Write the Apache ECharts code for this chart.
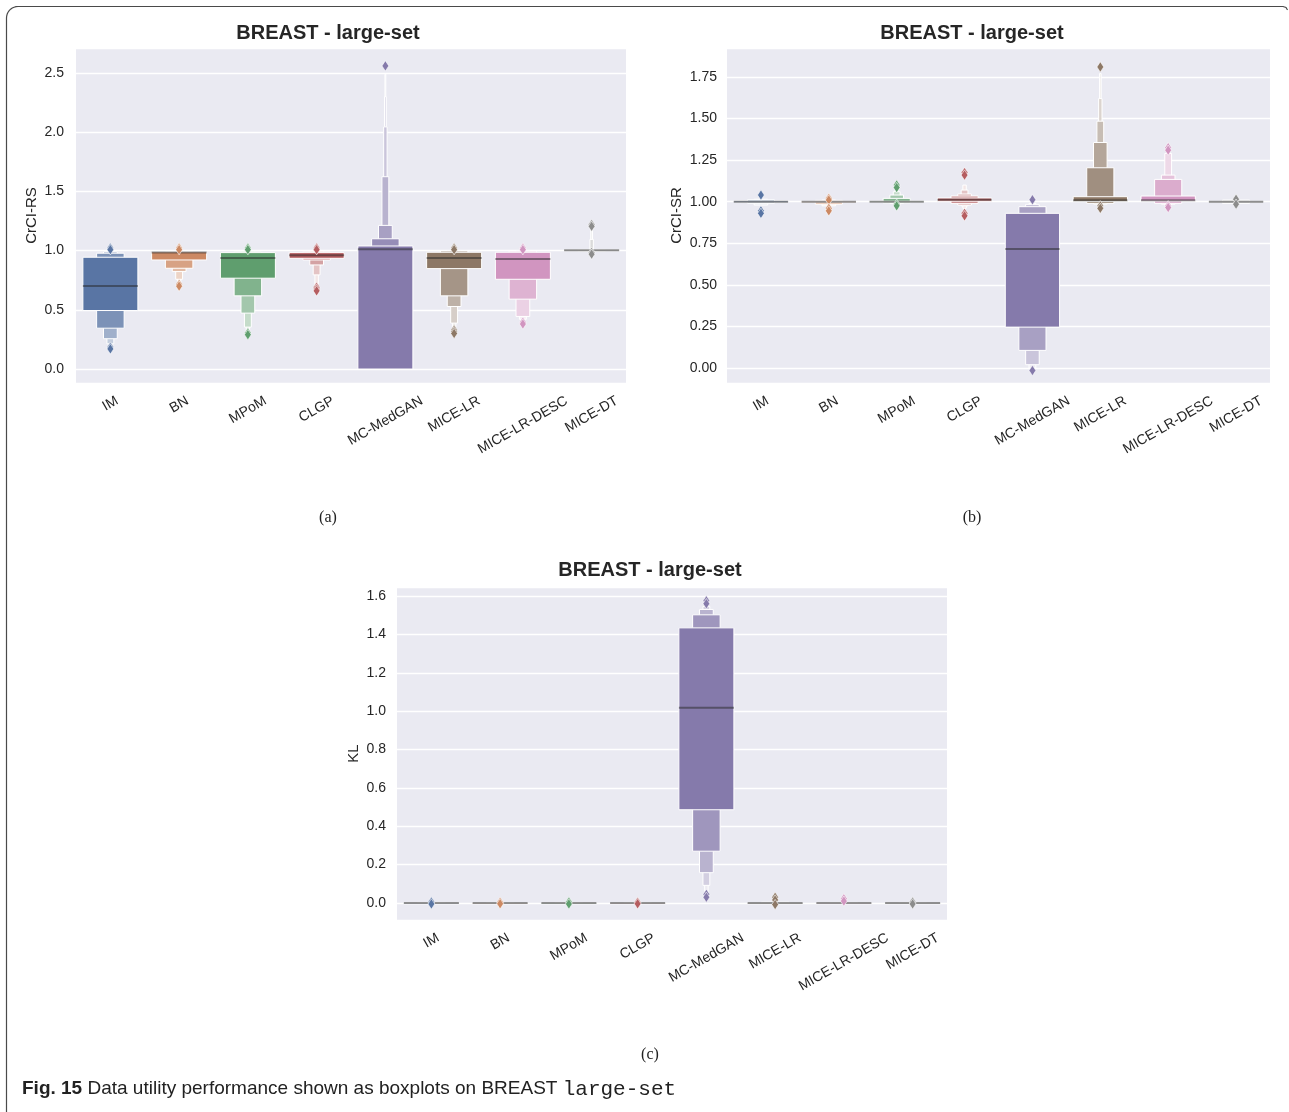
<!DOCTYPE html>
<html><head><meta charset="utf-8">
<script src="https://cdn.jsdelivr.net/npm/echarts@6/dist/echarts.min.js"></script>
<style>html,body{margin:0;padding:0;background:#fff}#main{width:1289px;height:1112px}</style>
</head><body><div id="main"></div>
<script>
// ---------------- DATA ----------------
const categories = ['IM','BN','MPoM','CLGP','MC-MedGAN','MICE-LR','MICE-LR-DESC','MICE-DT'];
const chartTitle = 'BREAST - large-set';
const yNames = ['CrCI-RS','CrCI-SR','KL'];
const yRanges = [[-0.118, 2.711], [-0.090, 1.924], [-0.0886, 1.647]];
const yTickSteps = [0.5, 0.25, 0.2];
const yTickDecimals = [1, 2, 1];
const subCaptions = ['(a)','(b)','(c)'];

// (a) CrCI-RS : letter-value boxes [lower, upper], innermost (IQR) first
const rsBoxes = [
  [[0.494,0.944],[0.345,0.978],[0.256,0.99],[0.213,0.995],[0.19,1.0]],
  [[0.921,0.989],[0.851,0.993],[0.823,0.996],[0.758,0.998],[0.73,0.999]],
  [[0.767,0.983],[0.618,0.99],[0.472,0.995],[0.354,0.998],[0.33,0.999]],
  [[0.935,0.983],[0.921,0.99],[0.879,0.995],[0.795,0.998],[0.70,0.999]],
  [[0,1.039],[0,1.10],[0,1.213],[0,1.624],[0,2.045],[0,2.30],[0,2.49]],
  [[0.848,0.986],[0.618,0.997],[0.528,0.999],[0.388,1.0],[0.354,1.0]],
  [[0.758,0.986],[0.59,0.995],[0.444,0.998],[0.42,0.999]],
  [[0.998,1.006],[0.996,1.007],[0.994,1.008],[0.99,1.01],[0.985,1.095],[0.98,1.19]]
];
const rsMedians = [0.702, 0.983, 0.938, 0.961, 1.011, 0.938, 0.93, 1.003];
const rsOutliers = [
  [1.022,1.008,0.185,0.17],
  [1.022,1.008,0.715,0.70],
  [1.022,1.008,0.305,0.29],
  [1.022,1.008,0.69,0.675,0.66],
  [2.56],
  [1.022,1.008,0.33,0.315,0.30],
  [1.022,1.008,0.395,0.38],
  [1.22,1.205,0.985,0.97]
];

// (b) CrCI-SR
const srBoxes = [
  [[0.997,1.004],[0.99,1.012],[0.98,1.015]],
  [[0.998,1.002],[0.985,1.008],[0.975,1.01]],
  [[0.998,1.003],[0.993,1.02],[0.99,1.04],[0.985,1.06],[0.98,1.07]],
  [[1.003,1.022],[0.99,1.034],[0.98,1.046],[0.975,1.07],[0.96,1.1]],
  [[0.246,0.93],[0.106,0.97],[0.02,0.984],[0.0,0.99]],
  [[1.002,1.03],[0.99,1.204],[0.985,1.356],[0.98,1.484],[0.975,1.62],[0.97,1.77]],
  [[1.004,1.034],[0.99,1.134],[0.985,1.16],[0.98,1.29],[0.975,1.31]],
  [[0.998,1.002],[0.99,1.01]]
];
const srMedians = [1.0, 1.0, 1.0, 1.012, 0.716, 1.008, 1.008, 1.0];
const srOutliers = [
  [1.04,0.945,0.93],
  [1.02,1.01,0.96,0.945],
  [1.10,1.085,0.985,0.975],
  [1.175,1.16,0.93,0.915],
  [1.012,-0.015],
  [1.81,0.975,0.96],
  [1.325,1.31,0.975,0.965],
  [1.015,0.985]
];

// (c) KL
const klBoxes = [
  [[-0.0005,0.0005],[-0.002,0.002]],
  [[-0.0005,0.0005],[-0.002,0.002]],
  [[-0.0005,0.0005],[-0.002,0.002]],
  [[-0.0005,0.0005],[-0.002,0.002]],
  [[0.486,1.434],[0.27,1.502],[0.158,1.53],[0.092,1.545],[0.056,1.55]],
  [[-0.0005,0.0005],[-0.002,0.004]],
  [[-0.0005,0.0005],[-0.002,0.003]],
  [[-0.0005,0.0005],[-0.002,0.002]]
];
const klMedians = [0, 0, 0, 0, 1.017, 0, 0, 0];
const klOutliers = [
  [0.005,-0.005],
  [0.004,-0.004],
  [0.005,-0.005],
  [0.004,-0.004],
  [1.575,1.56,0.045,0.03],
  [0.03,0.016,-0.008],
  [0.022,0.01],
  [0.005,-0.005]
];

// ---------------- STYLE / LAYOUT ----------------
const palette = ['#5975a4','#cc8963','#5f9e6e','#b55d60','#857aab','#8d7866','#d195c0','#8c8c8c'];
const layout = [
  {left:76, top:48, width:550, height:335, titleX:328, titleY:33, capX:328, capY:517, nameGap:37, labelMargin:12},
  {left:727, top:48, width:543, height:335, titleX:972, titleY:33, capX:972, capY:517, nameGap:43, labelMargin:10},
  {left:397, top:587, width:550, height:333, titleX:650, titleY:570, capX:650, capY:1054, nameGap:36, labelMargin:11}
];
const FONT = '"Liberation Sans", Arial, sans-serif';

function mix(hex, t){
  const r=parseInt(hex.slice(1,3),16), g=parseInt(hex.slice(3,5),16), b=parseInt(hex.slice(5,7),16);
  const f=c=>Math.round(c+(255-c)*t);
  return 'rgb('+f(r)+','+f(g)+','+f(b)+')';
}

function boxenSeries(g, boxes, medians, outliers){
  return {
    type:'custom', xAxisIndex:g, yAxisIndex:g, clip:true, silent:true,
    data: categories.map((c,i)=>[i, medians[i]]),
    encode:{x:0, y:1},
    renderItem(params, api){
      const i = params.dataIndex;
      const color = palette[i];
      const lv = boxes[i];
      const n = lv.length;
      const bw = api.size([1,0])[0]*0.8;
      const cx = api.coord([i, medians[i]])[0];
      const ch = [];
      for(let k=n-1;k>=0;k--){
        const top = api.coord([i, lv[k][1]])[1];
        const bot = api.coord([i, lv[k][0]])[1];
        const w = bw*Math.pow(0.5,k);
        ch.push({type:'rect', shape:{x:cx-w/2, y:top, width:w, height:Math.max(bot-top,0.8)},
          style:{fill:mix(color, n>1?0.85*k/(n-1):0), stroke:'#ffffff', lineWidth:1}});
      }
      const ym = api.coord([i, medians[i]])[1];
      ch.push({type:'line', shape:{x1:cx-bw/2, y1:ym, x2:cx+bw/2, y2:ym},
        style:{stroke:'rgba(38,38,38,0.5)', lineWidth:2}});
      outliers[i].forEach(v=>{
        const y = api.coord([i, v])[1];
        ch.push({type:'polygon', shape:{points:[[cx,y-5.2],[cx+3.4,y],[cx,y+5.2],[cx-3.4,y]]},
          style:{fill:color, stroke:'#ffffff', lineWidth:0.6}});
      });
      return {type:'group', children:ch};
    }
  };
}

const chart = echarts.init(document.getElementById('main'), null, {renderer:'canvas'});
const option = {
  animation:false,
  backgroundColor:'#ffffff',
  grid: layout.map(l=>({left:l.left, top:l.top, width:l.width, height:l.height, show:true,
    backgroundColor:'#eaeaf2', borderWidth:0, containLabel:false})),
  xAxis: layout.map((l,g)=>({type:'category', gridIndex:g, data:categories,
    axisLine:{show:false}, axisTick:{show:false}, axisLabel:{show:false}, splitLine:{show:false}})),
  yAxis: layout.map((l,g)=>({type:'value', gridIndex:g, min:yRanges[g][0], max:yRanges[g][1],
    minInterval:yTickSteps[g], maxInterval:yTickSteps[g],
    name:yNames[g], nameLocation:'middle', nameGap:l.nameGap,
    nameTextStyle:{fontSize:15, color:'#262626', fontFamily:FONT},
    axisLine:{show:false}, axisTick:{show:false},
    splitLine:{show:true, lineStyle:{color:'#ffffff', width:1.3}},
    axisLabel:{color:'#262626', fontSize:14, fontFamily:FONT, margin:l.labelMargin,
      showMinLabel:false, showMaxLabel:false,
      formatter:v=>{ const r=Math.round(v/yTickSteps[g]); if(Math.abs(v-r*yTickSteps[g])>1e-6) return ''; return (r*yTickSteps[g]).toFixed(yTickDecimals[g]); }}
  })),
  series:[
    boxenSeries(0, rsBoxes, rsMedians, rsOutliers),
    boxenSeries(1, srBoxes, srMedians, srOutliers),
    boxenSeries(2, klBoxes, klMedians, klOutliers)
  ]
};
chart.setOption(option);

// ---------- rotated category labels, titles, captions, frame ----------
const ctx = document.createElement('canvas').getContext('2d');
ctx.font = '14px ' + FONT;
const gfx = [];
layout.forEach((l,g)=>{
  const yb = chart.convertToPixel({yAxisIndex:g}, yRanges[g][0]);
  categories.forEach(c=>{
    const x = chart.convertToPixel({xAxisIndex:g}, c);
    const w = ctx.measureText(c).width;
    const bh = w*0.5 + 16*0.866;
    gfx.push({type:'text', x:x, y:yb+10+bh/2, rotation:Math.PI/6,
      style:{text:c, font:'14px '+FONT, fill:'#262626', align:'center', verticalAlign:'middle'}});
  });
  gfx.push({type:'text', x:l.titleX, y:l.titleY,
    style:{text:chartTitle, font:'bold 20px '+FONT, fill:'#262626', align:'center', verticalAlign:'middle'}});
  gfx.push({type:'text', x:l.capX, y:l.capY+1,
    style:{text:subCaptions[g], font:'16px "Liberation Serif", "DejaVu Serif", serif', fill:'#222', align:'center', verticalAlign:'middle'}});
});
gfx.push({type:'text', x:22, y:1089,
  style:{text:'{b|Fig. 15} Data utility performance shown as boxplots on BREAST {m|large-set}',
    font:'19px '+FONT, fill:'#222', verticalAlign:'middle',
    rich:{b:{fontWeight:'bold', fontSize:19, fontFamily:FONT, fill:'#222'},
          m:{fontFamily:'"Liberation Mono", monospace', fontSize:21, fill:'#222'}}}});
// figure frame (left edge, rounded top-left corner, top edge)
const framePts = [[6.5,1112],[6.5,18]];
for(let a=180;a<=270;a+=10){ const r=a*Math.PI/180; framePts.push([18+11.5*Math.cos(r), 18+11.5*Math.sin(r)]); }
framePts.push([1283,6.5],[1286,7.5],[1287.5,10]);
gfx.push({type:'polyline', shape:{points:framePts}, style:{fill:null, stroke:'#4a4a4a', lineWidth:1.2}});
chart.setOption({graphic:gfx});
</script>
</body></html>
